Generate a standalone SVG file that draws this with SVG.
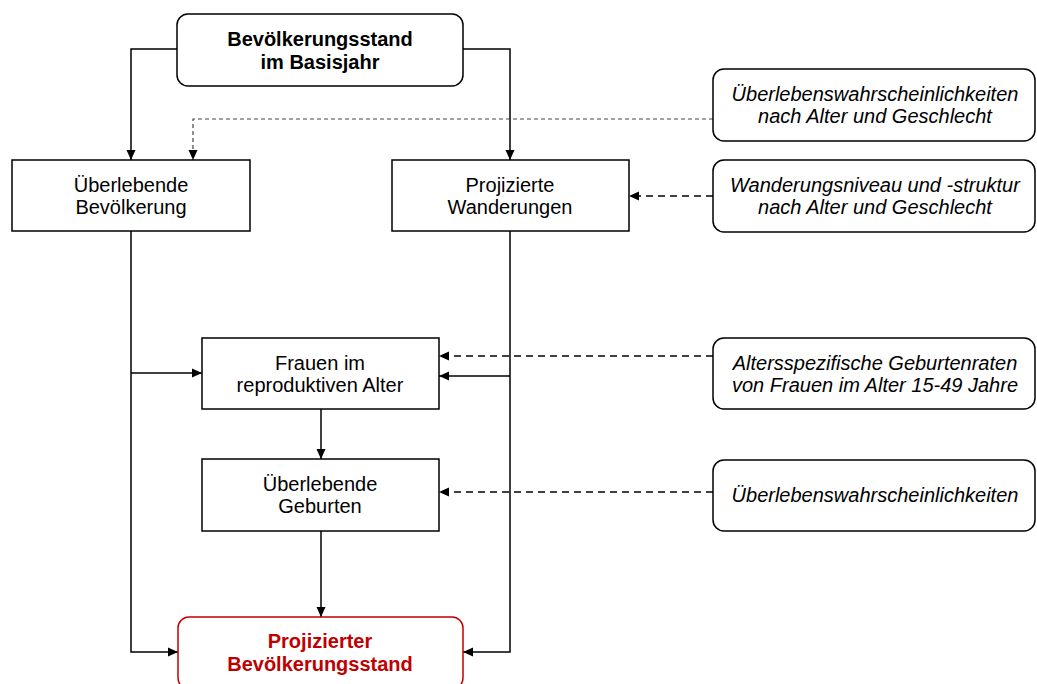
<svg xmlns="http://www.w3.org/2000/svg" width="1037" height="684" viewBox="0 0 1037 684">
<style>
.box{fill:#fff;stroke:#000;stroke-width:1.5}
.red{fill:#fff;stroke:#c00000;stroke-width:1.5}
.t{font-family:"Liberation Sans",Arial,sans-serif;font-size:20px;text-anchor:middle;fill:#000}
.b{font-weight:bold}
.i{font-style:italic}
.tr{fill:#c00000}
.ln{fill:none;stroke:#000;stroke-width:1.5}
.ds{fill:none;stroke:#000;stroke-width:1.5;stroke-dasharray:7 5}
.dt{fill:none;stroke:#444;stroke-width:1.2;stroke-dasharray:4 3}
</style>
<defs>
<marker id="ah" viewBox="0 0 10 10" refX="10" refY="5" markerWidth="10" markerHeight="10" markerUnits="userSpaceOnUse" orient="auto">
<path d="M0,0.5 L10,5 L0,9.5 z" fill="#000"/>
</marker>
</defs>
<g id="connectors">
<path class="ln" d="M177,49 H131 V160" marker-end="url(#ah)"/>
<path class="ln" d="M463,49 H510 V160" marker-end="url(#ah)"/>
<path class="dt" d="M713,119 H193 V160" marker-end="url(#ah)"/>
<path class="ds" d="M713,196 H629" marker-end="url(#ah)"/>
<path class="ln" d="M131,231 V652 H178" marker-end="url(#ah)"/>
<path class="ln" d="M510,231 V652 H463" marker-end="url(#ah)"/>
<path class="ln" d="M131,373 H202" marker-end="url(#ah)"/>
<path class="ln" d="M510,376 H439" marker-end="url(#ah)"/>
<path class="ds" d="M713,356 H439" marker-end="url(#ah)"/>
<path class="ln" d="M321,409 V459" marker-end="url(#ah)"/>
<path class="ds" d="M713,492 H439" marker-end="url(#ah)"/>
<path class="ln" d="M321,531 V617" marker-end="url(#ah)"/>
</g>
<g id="n-basis">
<rect class="box" x="177" y="14" width="286" height="72" rx="11"/>
<text class="t b" x="320" y="46">Bevölkerungsstand</text>
<text class="t b" x="320" y="69">im Basisjahr</text>
</g>
<g id="n-ueberlebende">
<rect class="box" x="12" y="160" width="238" height="71"/>
<text class="t" x="131" y="192">Überlebende</text>
<text class="t" x="131" y="214">Bevölkerung</text>
</g>
<g id="n-wanderungen">
<rect class="box" x="392" y="160" width="237" height="71"/>
<text class="t" x="510" y="192">Projizierte</text>
<text class="t" x="510" y="214">Wanderungen</text>
</g>
<g id="n-uewk1">
<rect class="box" x="713" y="69" width="322" height="72" rx="11"/>
<text class="t i" x="875" y="101">Überlebenswahrscheinlichkeiten</text>
<text class="t i" x="875" y="123">nach Alter und Geschlecht</text>
</g>
<g id="n-wanderungsniveau">
<rect class="box" x="713" y="160" width="322" height="72" rx="11"/>
<text class="t i" x="875" y="192">Wanderungsniveau und -struktur</text>
<text class="t i" x="875" y="214">nach Alter und Geschlecht</text>
</g>
<g id="n-frauen">
<rect class="box" x="202" y="338" width="237" height="71"/>
<text class="t" x="320" y="370">Frauen im</text>
<text class="t" x="320" y="392">reproduktiven Alter</text>
</g>
<g id="n-geburtenraten">
<rect class="box" x="713" y="338" width="322" height="71" rx="11"/>
<text class="t i" x="875" y="370">Altersspezifische Geburtenraten</text>
<text class="t i" x="875" y="392">von Frauen im Alter 15-49 Jahre</text>
</g>
<g id="n-geburten">
<rect class="box" x="202" y="459" width="237" height="72"/>
<text class="t" x="320" y="491">Überlebende</text>
<text class="t" x="320" y="513">Geburten</text>
</g>
<g id="n-uewk2">
<rect class="box" x="713" y="460" width="322" height="71" rx="11"/>
<text class="t i" x="875" y="502">Überlebenswahrscheinlichkeiten</text>
</g>
<g id="n-projiziert">
<rect class="red" x="178" y="617" width="285" height="72" rx="11"/>
<text class="t b tr" x="320" y="648">Projizierter</text>
<text class="t b tr" x="320" y="671">Bevölkerungsstand</text>
</g>
</svg>
